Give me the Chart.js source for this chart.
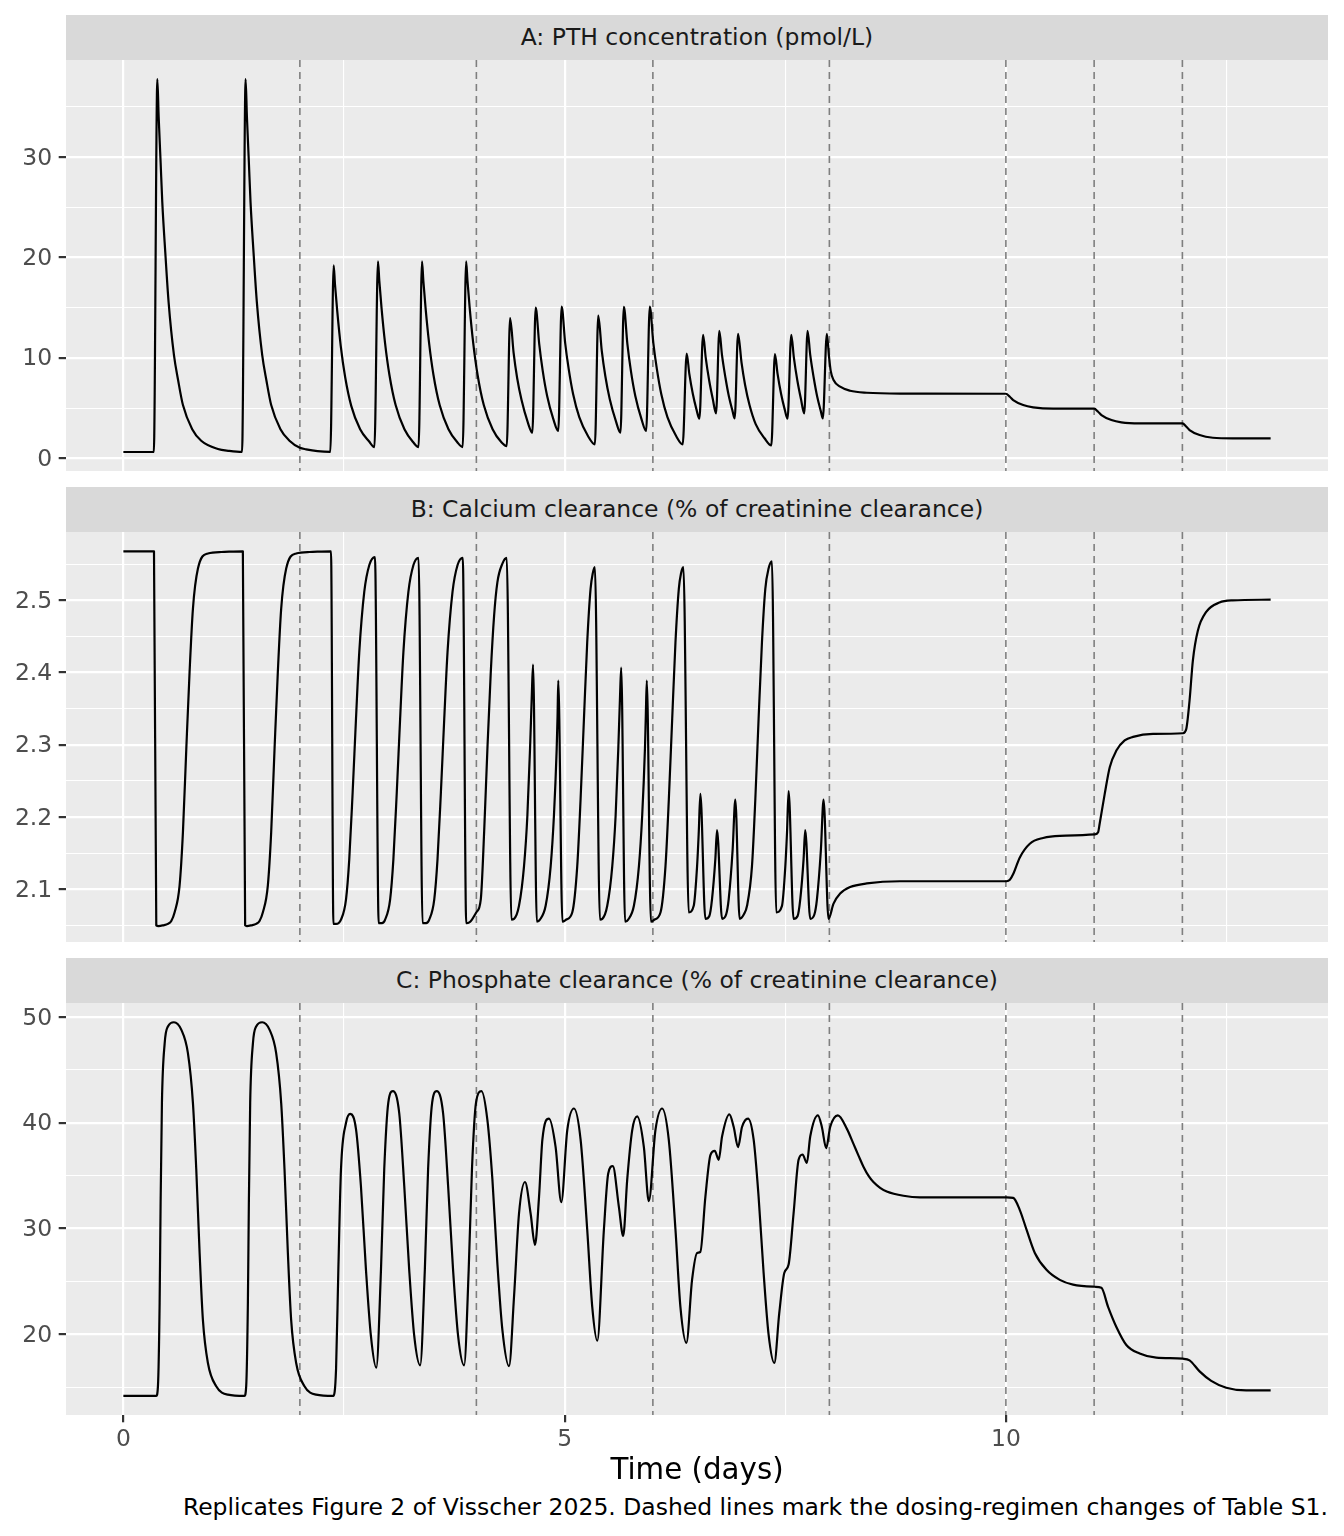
<!DOCTYPE html>
<html>
<head>
<meta charset="utf-8">
<script src="https://cdn.jsdelivr.net/npm/chart.js@4.4.1/dist/chart.umd.min.js"></script>
<style>
html,body{margin:0;padding:0;background:#ffffff;}
body{width:1344px;height:1536px;position:relative;overflow:hidden;font-family:'DejaVu Sans',sans-serif;}
.strip{position:absolute;left:66px;width:1262px;height:45px;background:#D9D9D9;color:#1A1A1A;font-size:23.47px;line-height:45px;text-align:center;white-space:nowrap;}
canvas{position:absolute;left:0;}
#caption{position:absolute;right:16px;top:1496px;font-size:23.47px;line-height:23px;color:#000;white-space:nowrap;}
</style>
</head>
<body>
<div class="strip" style="top:15px">A: PTH concentration (pmol/L)</div>
<canvas id="cA" width="1344" height="411" style="top:60px"></canvas>
<div class="strip" style="top:487px">B: Calcium clearance (% of creatinine clearance)</div>
<canvas id="cB" width="1344" height="410" style="top:532px"></canvas>
<div class="strip" style="top:958px">C: Phosphate clearance (% of creatinine clearance)</div>
<canvas id="cC" width="1344" height="490" style="top:1003px"></canvas>
<div id="caption">Replicates Figure 2 of Visscher 2025. Dashed lines mark the dosing-regimen changes of Table S1.</div>
<script>
// ---------------- DATA ----------------
const regimeChanges = [2, 4, 6, 8, 10, 11, 12];
const xMajorTicks = [0, 5, 10];
const xMinorTicks = [2.5, 7.5, 12.5];

// Panel A: PTH concentration (pmol/L)
const pthTime = [
0, 0.345, 0.385, 0.40, 0.422, 0.441, 0.475, 0.513, 0.573, 0.62, 0.675, 0.78, 0.882, 1.071, 1.2, 1.345,
1.385, 1.40, 1.422, 1.441, 1.475, 1.513, 1.573, 1.62, 1.675, 1.78, 1.882, 2.0, 2.071, 2.2, 2.345,
2.383, 2.398, 2.423, 2.463, 2.513, 2.583, 2.683, 2.783, 2.845,
2.885, 2.90, 2.925, 2.965, 3.015, 3.085, 3.185, 3.285, 3.345,
3.384, 3.399, 3.424, 3.464, 3.514, 3.584, 3.684, 3.784, 3.845,
3.884, 3.899, 3.924, 3.964, 4.014, 4.084, 4.184, 4.284, 4.344,
4.382, 4.422, 4.462, 4.512, 4.582, 4.634,
4.672, 4.712, 4.752, 4.802, 4.872, 4.928,
4.966, 5.006, 5.046, 5.096, 5.166, 5.266, 5.343,
5.381, 5.421, 5.461, 5.511, 5.581, 5.633,
5.671, 5.711, 5.751, 5.801, 5.871, 5.924,
5.965, 6.005, 6.045, 6.095, 6.165, 6.265, 6.338,
6.383, 6.413, 6.453, 6.493, 6.527,
6.569, 6.599, 6.639, 6.679, 6.716,
6.753, 6.783, 6.823, 6.863, 6.903, 6.927,
6.965, 7.005, 7.045, 7.095, 7.165, 7.265, 7.342,
7.383, 7.413, 7.453, 7.493, 7.526,
7.568, 7.598, 7.638, 7.678, 7.715,
7.753, 7.783, 7.823, 7.863, 7.903, 7.926,
7.971, 7.995, 8.015, 8.047, 8.122, 8.235, 8.424, 8.8, 10.0,
10.045, 10.083, 10.196, 10.309, 10.535, 11.0,
11.045, 11.083, 11.196, 11.309, 11.516, 12.0,
12.045, 12.081, 12.195, 12.345, 12.57, 13.0
];
const pthValue = [
0.63, 0.63, 37.75, 34.0, 29.5, 25.5, 20.5, 15.5, 10.3, 7.8, 5.3, 2.9, 1.75, 0.93, 0.75, 0.65,
37.75, 34.0, 29.5, 25.5, 20.5, 15.5, 10.3, 7.8, 5.3, 2.9, 1.75, 1.05, 0.9, 0.72, 0.65,
19.2, 17.3, 14.7, 11.2, 8.1, 5.2, 2.9, 1.7, 1.12,
19.6, 17.7, 15.0, 11.5, 8.3, 5.3, 2.9, 1.6, 1.12,
19.6, 17.7, 15.0, 11.5, 8.3, 5.3, 2.9, 1.6, 1.12,
19.6, 17.7, 15.0, 11.5, 8.3, 5.3, 2.9, 1.6, 1.22,
13.97, 10.5, 8.0, 5.8, 3.6, 2.55,
15.0, 11.4, 8.7, 6.2, 3.9, 2.72,
15.1, 11.5, 8.9, 6.4, 4.1, 2.2, 1.39,
14.2, 10.7, 8.2, 5.9, 3.7, 2.55,
15.07, 11.4, 8.7, 6.2, 3.9, 2.72,
15.1, 11.5, 8.9, 6.4, 4.1, 2.2, 1.39,
10.43, 8.4, 6.4, 4.9, 3.94,
12.3, 10.0, 7.7, 5.9, 4.47,
12.7, 10.3, 8.0, 6.1, 4.7, 3.97,
12.4, 9.5, 7.3, 5.3, 3.4, 2.0, 1.29,
10.37, 8.4, 6.4, 4.9, 3.94,
12.3, 10.0, 7.7, 5.9, 4.47,
12.7, 10.3, 8.0, 6.1, 4.7, 3.97,
12.4, 10.2, 8.7, 7.8, 7.13, 6.73, 6.53, 6.45, 6.43,
6.13, 5.8, 5.31, 5.08, 4.94, 4.94,
4.64, 4.31, 3.81, 3.58, 3.48, 3.48,
3.15, 2.82, 2.32, 2.05, 1.99, 1.99
];
const pthMajorTicks = [0, 10, 20, 30];
const pthMinorTicks = [5, 15, 25, 35];
const pthTickLabels = ['0', '10', '20', '30'];

// Panel B: Calcium clearance
const caTime = [
0, 0.347, 0.373, 0.40, 0.45, 0.505, 0.543, 0.581, 0.637, 0.675, 0.713, 0.750, 0.788, 0.845, 0.958, 1.109, 1.354,
1.38, 1.40, 1.45, 1.505, 1.543, 1.581, 1.637, 1.675, 1.713, 1.750, 1.788, 1.845, 1.958, 2.109, 2.353,
2.38, 2.41, 2.466, 2.523, 2.560, 2.598, 2.636, 2.673, 2.730, 2.787, 2.851,
2.893, 2.93, 2.966, 3.023, 3.060, 3.098, 3.136, 3.173, 3.230, 3.287, 3.345,
3.39, 3.43, 3.466, 3.523, 3.560, 3.598, 3.636, 3.673, 3.730, 3.787, 3.846,
3.885, 3.92, 3.95, 4.000, 4.050, 4.088, 4.125, 4.163, 4.201, 4.238, 4.295, 4.344,
4.397, 4.427, 4.483, 4.540, 4.578, 4.608, 4.627, 4.642,
4.685, 4.72, 4.785, 4.842, 4.879, 4.910, 4.920, 4.928,
4.975, 5.02, 5.087, 5.143, 5.181, 5.219, 5.256, 5.294, 5.318, 5.343,
5.40, 5.427, 5.483, 5.540, 5.578, 5.608, 5.627, 5.641,
5.685, 5.72, 5.785, 5.842, 5.879, 5.910, 5.920, 5.931,
5.978, 6.02, 6.087, 6.143, 6.181, 6.219, 6.256, 6.294, 6.318, 6.346,
6.406, 6.463, 6.501, 6.520, 6.538,
6.595, 6.64, 6.670, 6.708, 6.727,
6.784, 6.83, 6.859, 6.904, 6.934,
6.983, 7.03, 7.067, 7.123, 7.161, 7.198, 7.236, 7.274, 7.311, 7.349,
7.398, 7.463, 7.501, 7.520, 7.538,
7.594, 7.64, 7.670, 7.708, 7.726,
7.783, 7.83, 7.859, 7.904, 7.934,
7.990, 8.047, 8.122, 8.235, 8.424, 8.80, 10.008,
10.045, 10.083, 10.158, 10.271, 10.422, 10.611, 11.007,
11.045, 11.063, 11.120, 11.177, 11.252, 11.346, 11.441, 11.667, 12.006,
12.044, 12.081, 12.119, 12.175, 12.27, 12.42, 12.57, 13.0
];
const caValue = [
2.568, 2.568, 2.050, 2.049, 2.050, 2.052, 2.056, 2.068, 2.105, 2.179, 2.294, 2.400, 2.488, 2.544, 2.565, 2.567, 2.568,
2.050, 2.049, 2.050, 2.052, 2.056, 2.068, 2.105, 2.179, 2.294, 2.400, 2.488, 2.544, 2.565, 2.567, 2.568,
2.052, 2.052, 2.058, 2.086, 2.142, 2.234, 2.336, 2.428, 2.512, 2.549, 2.560,
2.053, 2.053, 2.058, 2.086, 2.142, 2.234, 2.336, 2.428, 2.512, 2.549, 2.559,
2.053, 2.053, 2.058, 2.086, 2.142, 2.234, 2.336, 2.428, 2.512, 2.549, 2.559,
2.053, 2.054, 2.058, 2.068, 2.086, 2.179, 2.294, 2.400, 2.479, 2.525, 2.551, 2.559,
2.058, 2.059, 2.077, 2.132, 2.202, 2.294, 2.364, 2.411,
2.055, 2.058, 2.077, 2.132, 2.202, 2.294, 2.340, 2.389,
2.055, 2.058, 2.068, 2.132, 2.225, 2.336, 2.442, 2.516, 2.537, 2.546,
2.058, 2.059, 2.077, 2.132, 2.202, 2.294, 2.364, 2.407,
2.055, 2.058, 2.077, 2.132, 2.202, 2.294, 2.340, 2.389,
2.055, 2.058, 2.068, 2.132, 2.225, 2.336, 2.442, 2.516, 2.537, 2.546,
2.068, 2.077, 2.132, 2.179, 2.232,
2.059, 2.063, 2.086, 2.142, 2.182,
2.059, 2.065, 2.086, 2.155, 2.224,
2.059, 2.065, 2.077, 2.132, 2.225, 2.336, 2.442, 2.516, 2.544, 2.554,
2.068, 2.077, 2.132, 2.179, 2.236,
2.059, 2.063, 2.086, 2.142, 2.182,
2.059, 2.065, 2.086, 2.155, 2.224,
2.059, 2.080, 2.094, 2.103, 2.108, 2.111, 2.111,
2.113, 2.121, 2.144, 2.163, 2.171, 2.174, 2.176,
2.179, 2.191, 2.232, 2.269, 2.292, 2.306, 2.311, 2.315, 2.316,
2.322, 2.361, 2.417, 2.458, 2.484, 2.497, 2.500, 2.501
];
const caMajorTicks = [2.1, 2.2, 2.3, 2.4, 2.5];
const caMinorTicks = [2.05, 2.15, 2.25, 2.35, 2.45, 2.55];
const caTickLabels = ['2.1', '2.2', '2.3', '2.4', '2.5'];

// Panel C: Phosphate clearance
const poTime = [
0, 0.373, 0.392, 0.411, 0.422, 0.437, 0.468, 0.505, 0.573, 0.656, 0.731, 0.788, 0.826, 0.864, 0.901, 0.958, 1.052, 1.184, 1.372,
1.392, 1.411, 1.422, 1.437, 1.468, 1.505, 1.573, 1.656, 1.731, 1.788, 1.826, 1.864, 1.901, 1.958, 2.052, 2.184, 2.379,
2.410, 2.436, 2.466, 2.523, 2.572, 2.636, 2.692, 2.749, 2.805, 2.866,
2.919, 2.956, 3.002, 3.054, 3.126, 3.183, 3.239, 3.296, 3.363,
3.416, 3.453, 3.499, 3.551, 3.623, 3.680, 3.736, 3.793, 3.861,
3.913, 3.950, 3.996, 4.058, 4.125, 4.182, 4.238, 4.295, 4.370,
4.427, 4.483, 4.551, 4.615, 4.664, 4.710, 4.748, 4.823, 4.898, 4.962, 5.030, 5.106, 5.181, 5.256, 5.313, 5.370,
5.445, 5.494, 5.546, 5.614, 5.664, 5.709, 5.766, 5.822, 5.898, 5.954, 6.029, 6.105, 6.180, 6.256, 6.312, 6.380,
6.444, 6.501, 6.538, 6.595, 6.652, 6.701, 6.746, 6.784, 6.867, 6.916, 6.965, 7.010, 7.078, 7.142, 7.198, 7.255, 7.311, 7.376,
7.432, 7.489, 7.538, 7.594, 7.651, 7.696, 7.745, 7.783, 7.870, 7.915, 7.964, 8.009, 8.096,
8.20, 8.273, 8.33, 8.386, 8.45, 8.499, 8.575, 8.650, 8.839, 9.027, 10.008,
10.083, 10.158, 10.234, 10.328, 10.460, 10.611, 10.761, 11.007,
11.082, 11.158, 11.252, 11.365, 11.516, 11.704, 12.006,
12.081, 12.195, 12.327, 12.497, 12.723, 13.0
];
const poValue = [
14.18, 14.18, 15.13, 22.99, 32.4, 41.9, 47.5, 49.1, 49.5, 48.8, 46.6, 41.9, 35.6, 27.7, 21.4, 17.3, 15.1, 14.3, 14.18,
15.13, 22.99, 32.4, 41.9, 47.5, 49.1, 49.5, 48.8, 46.6, 41.9, 35.6, 27.7, 21.4, 17.3, 15.1, 14.3, 14.18,
16.7, 26.1, 35.6, 40.0, 40.84, 39.4, 34.0, 26.1, 19.85, 16.85,
26.1, 35.6, 41.9, 43.0, 40.9, 34.0, 26.1, 19.85, 17.07,
26.1, 35.6, 41.9, 43.0, 40.9, 34.0, 26.1, 19.85, 17.07,
26.1, 35.6, 41.9, 43.0, 40.25, 34.6, 26.7, 20.4, 17.0,
23.6, 31.4, 34.4, 31.4, 28.45, 33.0, 38.4, 40.4, 37.7, 32.5, 39.3, 41.35, 38.4, 29.9, 22.6, 19.4,
29.9, 35.2, 35.9, 32.1, 29.3, 34.6, 39.3, 40.6, 37.7, 32.6, 39.3, 41.35, 38.4, 29.9, 22.6, 19.2,
25.15, 27.7, 27.8, 33.0, 36.95, 37.35, 36.5, 38.7, 40.8, 39.6, 37.7, 39.6, 40.4, 38.4, 33.0, 25.8, 20.0, 17.3,
22.0, 25.8, 26.6, 31.4, 36.5, 37.0, 36.2, 38.7, 40.7, 39.6, 37.6, 39.6, 40.7,
39.4, 38.0, 36.9, 35.85, 34.9, 34.4, 33.85, 33.5, 33.1, 32.95, 32.95,
32.9, 31.75, 29.9, 27.7, 26.1, 25.15, 24.7, 24.5,
24.4, 22.6, 20.7, 19.0, 18.2, 17.8, 17.7,
17.55, 16.5, 15.6, 14.95, 14.7, 14.7
];
const poMajorTicks = [20, 30, 40, 50];
const poMinorTicks = [15, 25, 35, 45];
const poTickLabels = ['20', '30', '40', '50'];

// ---------------- STYLE ----------------
const FONT = 'DejaVu Sans';
Chart.defaults.font.family = FONT;

const panelBg = {
  id: 'panelBg',
  beforeDraw(chart) {
    const a = chart.chartArea, ctx = chart.ctx;
    ctx.save();
    ctx.fillStyle = '#EBEBEB';
    ctx.fillRect(a.left, a.top, a.right - a.left, a.bottom - a.top);
    ctx.restore();
  }
};
const regimeLines = {
  id: 'regimeLines',
  beforeDatasetsDraw(chart) {
    const a = chart.chartArea, ctx = chart.ctx, xs = chart.scales.x;
    ctx.save();
    ctx.strokeStyle = '#7F7F7F';
    ctx.lineWidth = 1.6;
    ctx.setLineDash([7, 5]);
    regimeChanges.forEach(v => {
      const px = xs.getPixelForValue(v);
      ctx.beginPath();
      ctx.moveTo(px, a.top);
      ctx.lineTo(px, a.bottom);
      ctx.stroke();
    });
    ctx.restore();
  }
};

function isIn(v, arr) { return arr.some(a => Math.abs(a - v) < 1e-9); }

function makePanel(id, times, values, yMin, yMax, yMajor, yMinor, yLabels, isBottom) {
  const points = times.map((t, i) => ({x: t, y: values[i]}));
  const xAll = xMajorTicks.concat(xMinorTicks).sort((a, b) => a - b);
  const yAll = yMajor.concat(yMinor).sort((a, b) => a - b);
  new Chart(document.getElementById(id), {
    type: 'line',
    data: {datasets: [{
      data: points,
      borderColor: '#000000',
      borderWidth: 2.2,
      pointRadius: 0,
      fill: false,
      cubicInterpolationMode: 'monotone',
      borderJoinStyle: 'round'
    }]},
    options: {
      responsive: false,
      animation: false,
      devicePixelRatio: 1,
      events: [],
      layout: {padding: {left: 0, right: 16, top: 0, bottom: 0}},
      plugins: {legend: {display: false}, tooltip: {enabled: false}, title: {display: false}},
      scales: {
        x: {
          type: 'linear', min: -0.65, max: 13.65,
          afterBuildTicks: s => { s.ticks = xAll.map(v => ({value: v})); },
          afterFit: s => { s.height = isBottom ? 78 : 0; s.paddingLeft = 0; s.paddingRight = 0; },
          ticks: {
            display: isBottom, autoSkip: false, maxRotation: 0, minRotation: 0, padding: 3.5,
            font: {family: FONT, size: 23.47}, color: '#4D4D4D',
            callback: v => isIn(v, xMajorTicks) ? String(v) : ''
          },
          grid: {
            color: '#FFFFFF',
            lineWidth: c => isIn(c.tick.value, xMajorTicks) ? 2.2 : 1.1,
            drawTicks: isBottom, tickLength: 7.3, tickWidth: 2.2,
            tickColor: c => isIn(c.tick.value, xMajorTicks) ? '#333333' : 'rgba(0,0,0,0)'
          },
          border: {display: false},
          title: {
            display: isBottom, text: 'Time (days)', color: '#000000',
            font: {family: FONT, size: 29.33}, padding: {top: 0, bottom: 4}
          }
        },
        y: {
          type: 'linear', min: yMin, max: yMax,
          afterBuildTicks: s => { s.ticks = yAll.map(v => ({value: v})); },
          afterFit: s => { s.width = 66; s.paddingTop = 0; s.paddingBottom = 0; },
          ticks: {
            autoSkip: false, padding: 6.5, labelOffset: 1.5,
            font: {family: FONT, size: 23.47}, color: '#4D4D4D',
            callback: v => {
              const i = yMajor.findIndex(m => Math.abs(m - v) < 1e-9);
              return i >= 0 ? yLabels[i] : '';
            }
          },
          grid: {
            color: '#FFFFFF',
            lineWidth: c => isIn(c.tick.value, yMajor) ? 2.2 : 1.1,
            drawTicks: true, tickLength: 7.3, tickWidth: 2.2,
            tickColor: c => isIn(c.tick.value, yMajor) ? '#333333' : 'rgba(0,0,0,0)'
          },
          border: {display: false}
        }
      }
    },
    plugins: [panelBg, regimeLines]
  });
}

makePanel('cA', pthTime, pthValue, -1.26, 39.65, pthMajorTicks, pthMinorTicks, pthTickLabels, false);
makePanel('cB', caTime, caValue, 2.0269, 2.5947, caMajorTicks, caMinorTicks, caTickLabels, false);
makePanel('cC', poTime, poValue, 12.38, 51.32, poMajorTicks, poMinorTicks, poTickLabels, true);
</script>
</body>
</html>
